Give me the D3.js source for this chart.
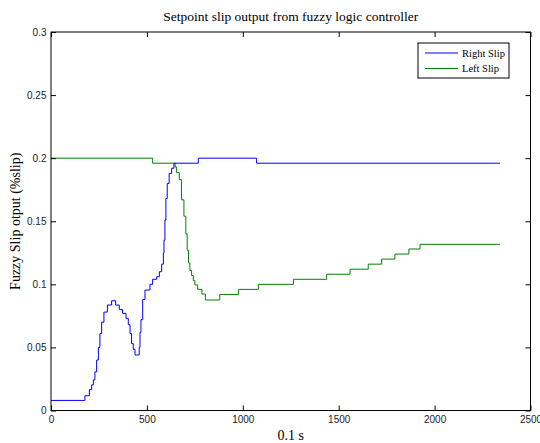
<!DOCTYPE html>
<html>
<head>
<meta charset="utf-8">
<script src="https://cdn.jsdelivr.net/npm/d3@7/dist/d3.min.js"></script>
<style>
html,body{margin:0;padding:0;background:#fff;}
svg{display:block;}
</style>
</head>
<body>
<script>
// ---- data ----
const seriesNames = ["Right Slip", "Left Slip"];
const rightT = [0,177,200,212,221,229,238,247,255,264,276,294,316,337,356,373,391,403,412,420,429,438,460,464,469,478,490,516,530,551,565,577,586,589,594,599,606,616,629,641,768,1072,2341];
const rightV = [0.008,0.0117,0.0165,0.0203,0.0243,0.0306,0.040,0.050,0.061,0.070,0.078,0.0836,0.087,0.0836,0.080,0.077,0.073,0.068,0.061,0.053,0.0485,0.044,0.050,0.062,0.072,0.088,0.0955,0.100,0.104,0.106,0.110,0.116,0.125,0.135,0.151,0.168,0.180,0.188,0.192,0.196,0.200,0.196,0.196];
const leftT = [0,530,647,655,669,680,693,703,710,717,724,733,742,750,765,787,805,811,880,977,1081,1264,1437,1559,1654,1724,1793,1866,1924,2341];
const leftV = [0.200,0.196,0.193,0.1885,0.183,0.167,0.154,0.140,0.127,0.117,0.111,0.107,0.103,0.0995,0.096,0.0923,0.0876,0.0876,0.092,0.096,0.100,0.104,0.108,0.112,0.116,0.120,0.124,0.128,0.1317,0.1317];
const xTicks = [0,500,1000,1500,2000,2500];
const yTicks = [0,0.05,0.1,0.15,0.2,0.25,0.3];
const titleText = "Setpoint slip output from fuzzy logic controller";
const xLabel = "0.1 s";
const yLabel = "Fuzzy Slip otput (%slip)";
const colors = ["#0000ff", "#008000"];

// ---- layout ----
const W = 540, H = 443;
const m = {left: 51, right: 9.5, top: 32, bottom: 32.5};
const iw = W - m.left - m.right, ih = H - m.top - m.bottom;

const svg = d3.select("body").append("svg").attr("width", W).attr("height", H);
const g = svg.append("g").attr("transform", `translate(${m.left},${m.top})`);

const x = d3.scaleLinear().domain([0, 2500]).range([0, iw]);
const y = d3.scaleLinear().domain([0, 0.3]).range([ih, 0]);

const tickFont = "'Liberation Sans', Arial, sans-serif";
const serif = "'Liberation Serif', 'Times New Roman', serif";

// lines
const line = d3.line().x(d => x(d[0])).y(d => y(d[1])).curve(d3.curveStepAfter);
const rightData = rightT.map((t, i) => [t, rightV[i]]);
const leftData = leftT.map((t, i) => [t, leftV[i]]);

g.append("path").datum(leftData).attr("d", line)
  .attr("fill", "none").attr("stroke", colors[1]).attr("stroke-width", 1);
g.append("path").datum(rightData).attr("d", line)
  .attr("fill", "none").attr("stroke", colors[0]).attr("stroke-width", 1);

// axes (inward ticks)
const xAxis = d3.axisBottom(x).tickValues(xTicks).tickSizeInner(-5).tickSizeOuter(0).tickPadding(5).tickFormat(d3.format("d"));
const yAxis = d3.axisLeft(y).tickValues(yTicks).tickSizeInner(-5).tickSizeOuter(0).tickPadding(4.5).tickFormat(d => d === 0 ? "0" : String(+d.toFixed(2)));
const xTop = d3.axisTop(x).tickValues(xTicks).tickSizeInner(-5).tickSizeOuter(0).tickFormat("");
const yRight = d3.axisRight(y).tickValues(yTicks).tickSizeInner(-5).tickSizeOuter(0).tickFormat("");

function style(sel) {
  sel.select(".domain").remove();
  sel.selectAll(".tick line").attr("stroke", "#000");
  sel.selectAll("text").attr("font-family", tickFont).attr("font-size", 10).attr("fill", "#222");
}
g.append("g").attr("transform", `translate(0,${ih})`).call(xAxis).call(style);
g.append("g").call(yAxis).call(style);
g.append("g").call(xTop).call(style);
g.append("g").attr("transform", `translate(${iw},0)`).call(yRight).call(style);

// box
g.append("rect").attr("x", 0).attr("y", 0).attr("width", iw).attr("height", ih)
  .attr("fill", "none").attr("stroke", "#000").attr("stroke-width", 1);

// title & labels
svg.append("text").attr("x", m.left + iw / 2).attr("y", 21).attr("text-anchor", "middle")
  .attr("font-family", serif).attr("font-size", 13.5).text(titleText);
svg.append("text").attr("x", m.left + iw / 2).attr("y", 440).attr("text-anchor", "middle")
  .attr("font-family", serif).attr("font-size", 14).text(xLabel);
svg.append("text").attr("transform", `translate(20,${m.top + ih / 2}) rotate(-90)`).attr("text-anchor", "middle")
  .attr("font-family", serif).attr("font-size", 14).text(yLabel);

// legend
const lg = svg.append("g").attr("transform", "translate(418,43)");
lg.append("rect").attr("x", 0).attr("y", 0).attr("width", 91).attr("height", 35)
  .attr("fill", "#fff").attr("stroke", "#000").attr("stroke-width", 1);
seriesNames.forEach((n, i) => {
  const yy = 10 + i * 15.5;
  lg.append("line").attr("x1", 7).attr("x2", 40).attr("y1", yy).attr("y2", yy)
    .attr("stroke", colors[i]).attr("stroke-width", 1);
  lg.append("text").attr("x", 44).attr("y", yy + 3.5).attr("font-family", serif)
    .attr("font-size", 10.5).text(n);
});
</script>
</body>
</html>
